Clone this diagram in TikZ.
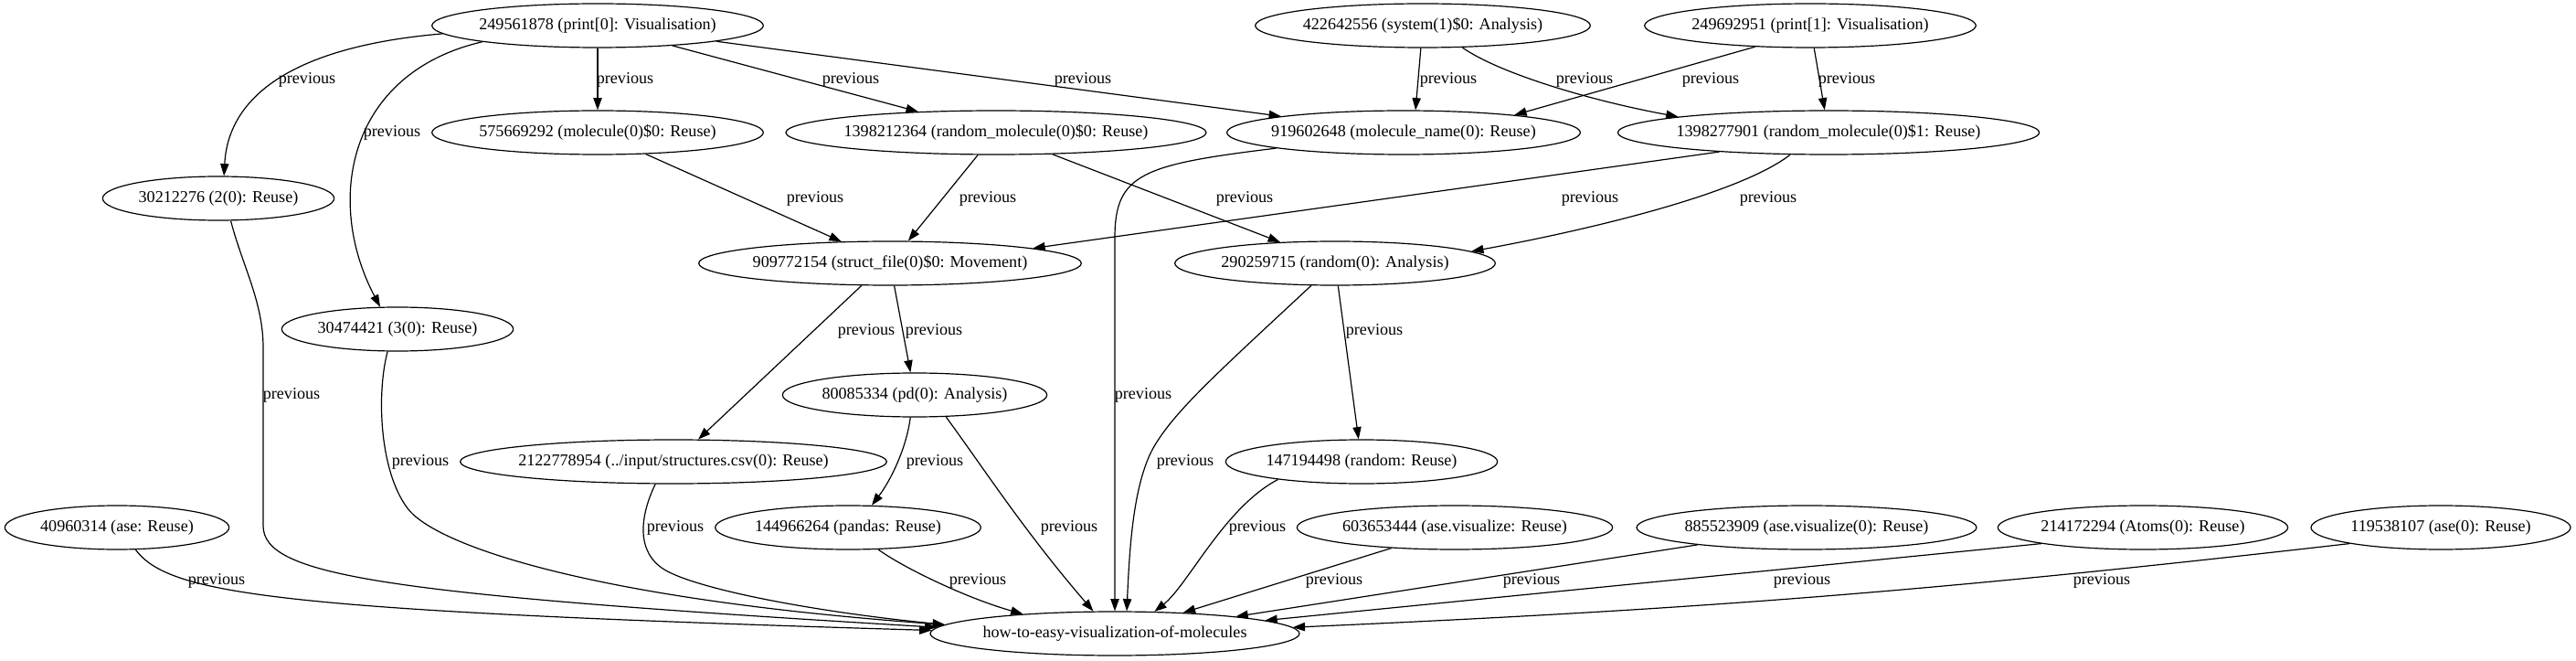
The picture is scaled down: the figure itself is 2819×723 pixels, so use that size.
\documentclass[tikz,border=0pt]{standalone}
\usepackage{fontspec}
\setmainfont{Liberation Serif}
\usetikzlibrary{arrows.meta,shapes.geometric}

\begin{document}
\begin{tikzpicture}[x=0.75pt,y=-0.75pt,line width=0.9pt,
  >={Triangle[length=10pt,width=7pt]},
  font=\fontsize{13.6pt}{16pt}\selectfont,
  cell/.style={draw,ellipse,minimum height=36pt,minimum width=#1,inner xsep=-6pt,inner ysep=0pt}]

        \useasboundingbox (0,0) rectangle (2819,723);

        \node[cell=272pt] (print_0) at (654,28) {249561878 (print[0]: Visualisation)};
        \node[cell=275pt] (system_1) at (1557,28) {422642556 (system(1)\$0: Analysis)};
        \node[cell=272pt] (print_1) at (1981,28) {249692951 (print[1]: Visualisation)};
        \node[cell=272pt] (molecule_0) at (654,145) {575669292 (molecule(0)\$0: Reuse)};
        \node[cell=345pt] (rmol_0) at (1090,145) {1398212364 (random\_molecule(0)\$0: Reuse)};
        \node[cell=289pt] (molname_0) at (1536,145) {919602648 (molecule\_name(0): Reuse)};
        \node[cell=346pt] (rmol_1) at (2001,145) {1398277901 (random\_molecule(0)\$1: Reuse)};
        \node[cell=190pt] (two_0) at (239,217) {30212276 (2(0): Reuse)};
        \node[cell=314pt] (struct_file) at (974,288) {909772154 (struct\_file(0)\$0: Movement)};
        \node[cell=263pt] (random_0) at (1461,288) {290259715 (random(0): Analysis)};
        \node[cell=190pt] (three_0) at (435,360) {30474421 (3(0): Reuse)};
        \node[cell=217pt] (pd_0) at (1001,432) {80085334 (pd(0): Analysis)};
        \node[cell=350pt] (csv_0) at (737,505) {2122778954 (../input/structures.csv(0): Reuse)};
        \node[cell=223pt] (rnd) at (1490,505) {147194498 (random: Reuse)};
        \node[cell=184pt] (ase) at (128,577) {40960314 (ase: Reuse)};
        \node[cell=218pt] (pandas) at (928,577) {144966264 (pandas: Reuse)};
        \node[cell=259pt] (ase_vis) at (1592,577) {603653444 (ase.visualize: Reuse)};
        \node[cell=279pt] (ase_vis_0) at (1977,577) {885523909 (ase.visualize(0): Reuse)};
        \node[cell=238pt] (atoms_0) at (2345,577) {214172294 (Atoms(0): Reuse)};
        \node[cell=213pt] (ase_0) at (2671,577) {119538107 (ase(0): Reuse)};
        \node[cell=303pt] (notebook) at (1220,693) {how-to-easy-visualization-of-molecules};

        % straight edges
        \path[->]
        (print_0) edge (molecule_0)
        (print_0) edge (rmol_0)
        (print_0) edge (molname_0)
        (system_1.265) edge (molname_0.62)
        (print_1.201) edge (molname_0.9)
        (print_1) edge (rmol_1)
        (molecule_0) edge (struct_file)
        (rmol_0) edge (struct_file)
        (rmol_0) edge (random_0)
        (rmol_1.190) edge (struct_file.6)
        (struct_file.218) edge (csv_0.42)
        (struct_file) edge (pd_0)
        (random_0) edge (rnd)
        (ase_vis.198) edge (notebook.17)
        (ase_vis_0.189) edge (notebook.8)
        (atoms_0.189) edge (notebook.5)
        (ase_0.190) edge [bend left=2] (notebook.2);

        % curved edges
        \draw[->] (print_0.183) .. controls (330,50) and (250,100) .. (two_0.76);
        \draw[->] (print_0.188) .. controls (380,80) and (355,220) .. (three_0.128);
        \draw[->] (system_1.331) .. controls (1640,80) and (1740,110) .. (rmol_1.174);
        \draw[->] (rmol_1.210) .. controls (1900,215) and (1720,255) .. (random_0.5);
        \draw[->] (molname_0.187) .. controls (1250,180) and (1220,190) .. (1220,260) -- (notebook);
        \draw[->] (two_0.299) .. controls (265,290) and (288,330) .. (288,380) -- (288,575)
                  .. controls (288,630) and (420,650) .. (notebook.178);
        \draw[->] (three_0.246) .. controls (412,430) and (415,515) .. (446,556)
                  .. controls (475,595) and (640,655) .. (notebook.177);
        \draw[->] (random_0.223) .. controls (1330,410) and (1285,450) .. (1262,490)
                  .. controls (1240,530) and (1236,600) .. (notebook.62);
        \draw[->] (pd_0.259) .. controls (992,490) and (975,525) .. (pandas.43);
        \draw[->] (pd_0.325) .. controls (1075,510) and (1120,580) .. (notebook.134);
        \draw[->] (csv_0.231) .. controls (700,565) and (696,604) .. (727,623)
                  .. controls (760,643) and (880,668) .. (notebook.177);
        \draw[->] (ase.310) .. controls (185,650) and (300,668) .. (notebook.179);
        \draw[->] (pandas.324) .. controls (990,622) and (1060,655) .. (notebook.168);
        \draw[->] (rnd.192) .. controls (1340,555) and (1300,640) .. (notebook.29);

        % edge labels
        \node (l_1) at (336,87) {previous};
        \node (l_2) at (429,145) {previous};
        \node (l_3) at (684,87) {previous};
        \node (l_4) at (931,87) {previous};
        \node (l_5) at (1185,87) {previous};
        \node (l_6) at (1585,87) {previous};
        \node (l_7) at (1734,87) {previous};
        \node (l_8) at (1872,87) {previous};
        \node (l_9) at (2021,87) {previous};
        \node (l_10) at (892,217) {previous};
        \node (l_11) at (1081,217) {previous};
        \node (l_12) at (1362,217) {previous};
        \node (l_13) at (1740,217) {previous};
        \node (l_14) at (1935,217) {previous};
        \node (l_15) at (948,362) {previous};
        \node (l_16) at (1022,362) {previous};
        \node (l_17) at (1504,362) {previous};
        \node (l_18) at (319,432) {previous};
        \node (l_19) at (1251,432) {previous};
        \node (l_20) at (460,505) {previous};
        \node (l_21) at (1023,505) {previous};
        \node (l_22) at (1297,505) {previous};
        \node (l_23) at (739,577) {previous};
        \node (l_24) at (1170,577) {previous};
        \node (l_25) at (1376,577) {previous};
        \node (l_26) at (237,635) {previous};
        \node (l_27) at (1070,635) {previous};
        \node (l_28) at (1460,635) {previous};
        \node (l_29) at (1676,635) {previous};
        \node (l_30) at (1972,635) {previous};
        \node (l_31) at (2300,635) {previous};

    \end{tikzpicture}
\end{document}
